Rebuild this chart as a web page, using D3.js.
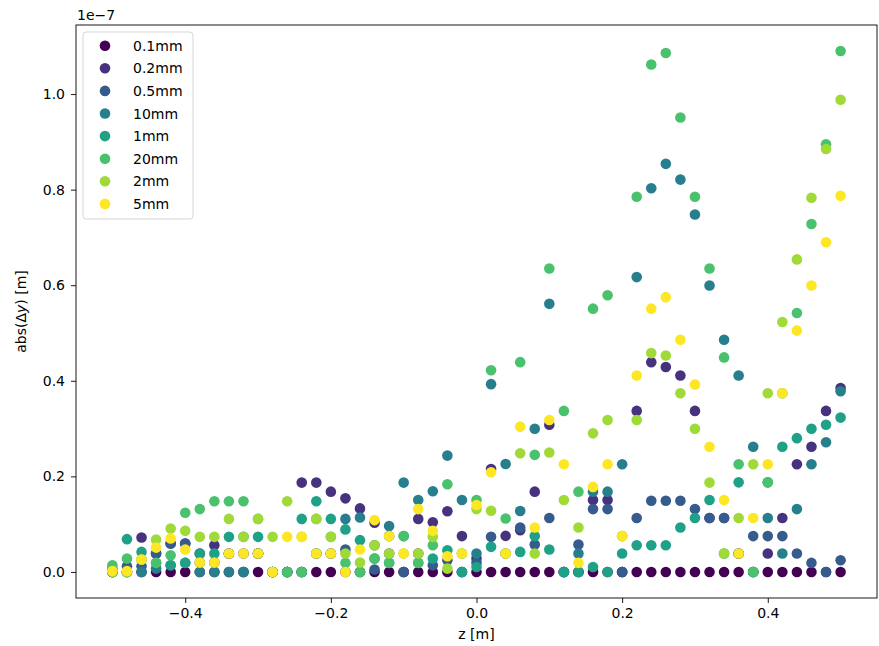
<!DOCTYPE html>
<html lang="en">
<head>
    <meta charset="UTF-8">
    <title>abs(Δy) vs z</title>
    <script src="https://d3js.org/d3.v7.min.js"></script>
    <style>
        body { margin: 0; background: #fff; }
        text { font-family: "DejaVu Sans", sans-serif; fill: #000; }
    </style>
</head>
<body>
    <div id="chart"></div>

    <script>
        // z positions [m]
        const zValues = [-0.5, -0.48, -0.46, -0.44, -0.42, -0.4, -0.38, -0.36, -0.34, -0.32,
            -0.3, -0.28, -0.26, -0.24, -0.22, -0.2, -0.18, -0.16, -0.14, -0.12,
            -0.1, -0.08, -0.06, -0.04, -0.02, 0.0, 0.02, 0.04, 0.06, 0.08,
            0.1, 0.12, 0.14, 0.16, 0.18, 0.2, 0.22, 0.24, 0.26, 0.28,
            0.3, 0.32, 0.34, 0.36, 0.38, 0.4, 0.42, 0.44, 0.46, 0.48, 0.5];

        // abs(dy) in units of 1e-7 m, one list per series
        const y01mm = [0, 0, 0, 0, 0, 0, 0, 0, 0, 0,
            0, 0, 0, 0, 0, 0, 0, 0, 0, 0,
            0, 0, 0, 0, 0, 0, 0, 0, 0, 0,
            0, 0, 0, 0, 0, 0, 0, 0, 0, 0,
            0, 0, 0, 0, 0, 0, 0, 0, 0, 0, 0];
        const y02mm = [0, 0, 0.072, 0.0385, 0.0595, 0.0595, 0.0385, 0.056, 0.0385, 0.0385,
            0.0385, 0, 0, 0.187, 0.187, 0.168, 0.154, 0.133, 0.103, 0.0385,
            0, 0.111, 0.104, 0.127, 0.075, 0.028, 0.2155, 0.0755, 0.0875, 0.168,
            0.308, 0, 0, 0.1505, 0.1505, 0, 0.337, 0.439, 0.429, 0.411,
            0.337, 0.113, 0.113, 0.0385, 0, 0.0385, 0.113, 0.2255, 0.262, 0.337, 0.385];
        const y05mm = [0, 0.012, 0.012, 0.0385, 0.0595, 0.0595, 0.0196, 0.0196, 0.0385, 0,
            0.0385, 0, 0, 0, 0.0385, 0.0385, 0.047, 0, 0.005, 0.075,
            0, 0.0385, 0.014, 0.0245, 0, 0.019, 0.0735, 0.0385, 0.093, 0.0575,
            0.113, 0, 0.0575, 0.1315, 0.1315, 0, 0.113, 0.149, 0.149, 0.149,
            0.1315, 0.113, 0.113, 0.0385, 0.075, 0.075, 0.075, 0.0385, 0.019, 0, 0.0245];
        const y10mm = [0, 0, 0, 0.007, 0.014, 0.019, 0, 0, 0, 0,
            0.0385, 0, 0, 0, 0.0385, 0.0385, 0.111, 0.114, 0.056, 0.096,
            0.187, 0.1505, 0.169, 0.2435, 0.1505, 0.0385, 0.393, 0.226, 0.1275, 0.2995,
            0.561, 0, 0.0385, 0.168, 0.168, 0.2255, 0.617, 0.803, 0.854, 0.821,
            0.748, 0.5995, 0.486, 0.411, 0.262, 0.113, 0.0385, 0.1315, 0.2255, 0.2715, 0.378];
        const y1mm = [0.007, 0.0686, 0.042, 0.019, 0.014, 0.019, 0.0385, 0.0385, 0.0735, 0.0735,
            0.0735, 0, 0, 0.111, 0.148, 0.111, 0.089, 0.0665, 0.028, 0.019,
            0.075, 0.019, 0.028, 0.0455, 0, 0.0105, 0.0525, 0.0385, 0.042, 0.075,
            0.047, 0, 0, 0.0105, 0, 0.0385, 0.056, 0.056, 0.056, 0.093,
            0.113, 0.1505, 0.0385, 0.1875, 0, 0.1875, 0.262, 0.28, 0.2995, 0.308, 0.323];
        const y20mm = [0.014, 0.028, 0.026, 0.019, 0.035, 0.124, 0.1315, 0.148, 0.148, 0.148,
            0.111, 0, 0, 0, 0.111, 0.0735, 0.019, 0, 0.028, 0.019,
            0.075, 0.019, 0.056, 0.1835, 0.0385, 0.1505, 0.422, 0.112, 0.439, 0.245,
            0.635, 0.337, 0.168, 0.551, 0.579, 0.075, 0.785, 1.062, 1.086, 0.951,
            0.785, 0.635, 0.449, 0.2255, 0, 0.1875, 0.374, 0.542, 0.728, 0.895, 1.09];
        const y2mm = [0, 0, 0.026, 0.068, 0.091, 0.086, 0.0735, 0.0735, 0.111, 0.0735,
            0.111, 0.0735, 0.148, 0.0735, 0.111, 0.0735, 0.0385, 0.0196, 0.056, 0.0385,
            0.0385, 0.0385, 0.0735, 0.007, 0.0385, 0.1315, 0.128, 0.0385, 0.2485, 0.0385,
            0.25, 0.1505, 0.093, 0.29, 0.318, 0.075, 0.318, 0.458, 0.453, 0.374,
            0.2995, 0.187, 0.0385, 0.113, 0.2255, 0.374, 0.523, 0.654, 0.783, 0.885, 0.988];
        const y5mm = [0.002, 0.002, 0.026, 0.051, 0.07, 0.047, 0.0196, 0.0196, 0.0385, 0.0385,
            0.0385, 0, 0.0735, 0.0735, 0.0385, 0.0385, 0, 0.047, 0.1085, 0.075,
            0.0385, 0.1315, 0.086, 0.033, 0.0385, 0.14, 0.2085, 0.0385, 0.304, 0.093,
            0.318, 0.2255, 0.019, 0.178, 0.2255, 0.075, 0.411, 0.551, 0.575, 0.486,
            0.392, 0.262, 0.1505, 0.0385, 0.113, 0.2255, 0.374, 0.505, 0.5995, 0.69, 0.787];

        const seriesNames = ["0.1mm", "0.2mm", "0.5mm", "10mm", "1mm", "20mm", "2mm", "5mm"];
        const seriesValues = [y01mm, y02mm, y05mm, y10mm, y1mm, y20mm, y2mm, y5mm];

        const xTicks = [-0.4, -0.2, 0.0, 0.2, 0.4];
        const yTicks = [0.0, 0.2, 0.4, 0.6, 0.8, 1.0];

        const width = 879, height = 646;
        const margin = { top: 25, right: 2, bottom: 48, left: 76 };

        const svg = d3.select("#chart")
            .append("svg")
            .attr("width", width)
            .attr("height", height);

        // matplotlib-like autoscale: 5% margin on each side
        const xExt = d3.extent(zValues);
        const xPad = (xExt[1] - xExt[0]) * 0.05;
        const yMax = d3.max(seriesValues, s => d3.max(s));
        const yMin = d3.min(seriesValues, s => d3.min(s));
        const yPad = (yMax - yMin) * 0.05;

        const x = d3.scaleLinear()
            .domain([xExt[0] - xPad, xExt[1] + xPad])
            .range([margin.left, width - margin.right]);

        const y = d3.scaleLinear()
            .domain([yMin - yPad, yMax + yPad])
            .range([height - margin.bottom, margin.top]);

        const color = d3.scaleOrdinal()
            .domain(seriesNames)
            .range(seriesNames.map((d, i) => d3.interpolateViridis(i / (seriesNames.length - 1))));

        const fmt = d => d3.format(".1f")(d).replace("-", "\u2212");

        // points, drawn in series order so later ones sit on top
        seriesNames.forEach((name, si) => {
            svg.append("g")
                .selectAll("circle")
                .data(zValues.map((z, i) => ({ z: z, v: seriesValues[si][i] })))
                .enter()
                .append("circle")
                .attr("cx", d => x(d.z))
                .attr("cy", d => y(d.v))
                .attr("r", 5.3)
                .attr("fill", color(name));
        });

        // axes
        const xAxis = svg.append("g")
            .attr("transform", `translate(0,${height - margin.bottom})`)
            .call(d3.axisBottom(x).tickValues(xTicks).tickFormat(fmt).tickSize(5).tickPadding(5).tickSizeOuter(0));

        const yAxis = svg.append("g")
            .attr("transform", `translate(${margin.left},0)`)
            .call(d3.axisLeft(y).tickValues(yTicks).tickFormat(fmt).tickSize(5).tickPadding(6).tickSizeOuter(0));

        [xAxis, yAxis].forEach(a => {
            a.select(".domain").remove();
            a.selectAll(".tick line").attr("stroke", "#000").attr("stroke-width", 0.9);
            a.selectAll(".tick text")
                .attr("font-family", "DejaVu Sans")
                .attr("font-size", 14)
                .attr("fill", "#000");
        });

        // frame
        svg.append("rect")
            .attr("x", margin.left)
            .attr("y", margin.top)
            .attr("width", width - margin.right - margin.left)
            .attr("height", height - margin.bottom - margin.top)
            .attr("fill", "none")
            .attr("stroke", "#000")
            .attr("stroke-width", 0.9);

        // offset text
        svg.append("text")
            .attr("x", margin.left + 1)
            .attr("y", 20)
            .attr("font-size", 14)
            .text("1e\u22127");

        // axis labels
        svg.append("text")
            .attr("x", (margin.left + width - margin.right) / 2)
            .attr("y", 639)
            .attr("text-anchor", "middle")
            .attr("font-size", 14)
            .text("z [m]");

        const yl = svg.append("text")
            .attr("transform", `translate(26,${(margin.top + height - margin.bottom) / 2}) rotate(-90)`)
            .attr("text-anchor", "middle")
            .attr("font-size", 14);
        yl.append("tspan").text("abs(\u0394");
        yl.append("tspan").attr("font-style", "italic").text("y");
        yl.append("tspan").text(") [m]");

        // legend
        const legend = svg.append("g").attr("transform", "translate(83,32)");
        legend.append("rect")
            .attr("width", 110)
            .attr("height", 187)
            .attr("rx", 3)
            .attr("fill", "#fff")
            .attr("fill-opacity", 0.8)
            .attr("stroke", "#d6d6d6");

        const items = legend.selectAll(".item")
            .data(seriesNames)
            .enter()
            .append("g")
            .attr("class", "item")
            .attr("transform", (d, i) => `translate(0,${13.7 + i * 22.6})`);

        items.append("circle")
            .attr("cx", 22)
            .attr("cy", 0)
            .attr("r", 5.3)
            .attr("fill", d => color(d));

        items.append("text")
            .attr("x", 50)
            .attr("y", 5)
            .attr("font-size", 14)
            .text(d => d);
    </script>
</body>
</html>
